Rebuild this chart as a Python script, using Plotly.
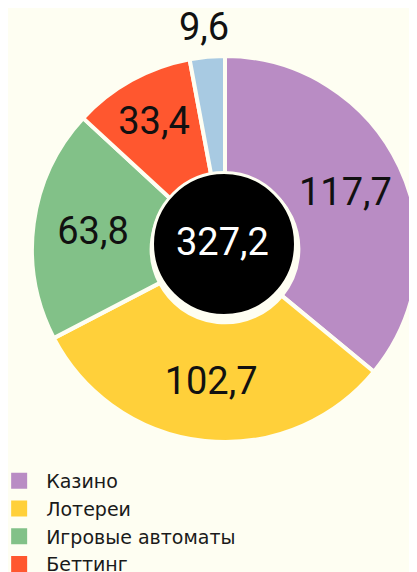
import math
import plotly.graph_objects as go

W, H = 417, 572
OFF = 8  # page body margin offset of the plot div
BG = "#FEFEF2"

categories = ["Казино", "Лотереи", "Игровые автоматы", "Беттинг", "Прочее"]
values = [117.7, 102.7, 63.8, 33.4, 9.6]
colors = ["#B98CC4", "#FFD03A", "#82C188", "#FF572F", "#A8CAE2"]
total_label = "327,2"
legend_count = 4

NUM_FONT = "Roboto, Noto Sans, sans-serif"

# geometry in page pixels (converted to figure pixels by OFF)
cx, cy, R = 225 - OFF, 249 - OFF, 193
hx, hy, hole_r = 224 - OFF, 244 - OFF, 71.5

dom_x = [(cx - R) / W, (cx + R) / W]
dom_y = [(H - cy - R) / H, (H - cy + R) / H]

small = [v / sum(values) < 0.05 for v in values]
positions = ["none" if s else "inside" for s in small]

fig = go.Figure()
fig.add_trace(go.Pie(
    labels=categories, values=values, sort=False, direction="clockwise", rotation=0,
    hole=0.38,
    marker=dict(colors=colors, line=dict(color=BG, width=4)),
    texttemplate="%{value:.1f}", textposition=positions,
    insidetextorientation="horizontal",
    textfont=dict(family=NUM_FONT, size=38, color="#111111"),
    domain=dict(x=dom_x, y=dom_y),
    showlegend=False, hoverinfo="skip",
))

# outside label for the small slice, at its mid-angle
total = sum(values)
cum = 0
for v, s in zip(values, small):
    mid = (cum + v / 2) / total * 2 * math.pi
    cum += v
    if s:
        rr = R + 30
        lx = cx + rr * math.sin(mid)
        ly = cy - rr * math.cos(mid)
        fig.add_annotation(x=lx / W, y=(H - ly) / H, xref="paper", yref="paper",
                           xanchor="center", yanchor="middle",
                           text=f"{v:.1f}".replace(".", ","), showarrow=False,
                           font=dict(family=NUM_FONT, size=38, color="#111111"))

for name, col in zip(categories[:legend_count], colors[:legend_count]):
    fig.add_trace(go.Scatter(x=[None], y=[None], mode="markers", name=name,
                             marker=dict(symbol="square", size=18, color=col)))

fig.add_shape(type="circle", xref="paper", yref="paper",
              x0=(hx - hole_r) / W, x1=(hx + hole_r) / W,
              y0=(H - hy - hole_r) / H, y1=(H - hy + hole_r) / H,
              fillcolor="black", line=dict(color=BG, width=3), layer="above")
fig.add_annotation(x=(222 - OFF) / W, y=(H - (242 - OFF)) / H, xref="paper", yref="paper",
                   xanchor="center", yanchor="middle",
                   text=total_label, showarrow=False,
                   font=dict(family=NUM_FONT, size=38, color="white"))

fig.update_layout(
    width=W, height=H, paper_bgcolor=BG, plot_bgcolor=BG,
    margin=dict(l=0, r=0, t=0, b=0, autoexpand=False),
    separators=", ",
    xaxis=dict(visible=False), yaxis=dict(visible=False),
    legend=dict(x=-0.038, y=1 - 454 / H, xanchor="left", yanchor="top",
                itemwidth=44,
                font=dict(family="DejaVu Sans", size=19, color="#1a1a1a"),
                bgcolor="rgba(0,0,0,0)"),
)

fig.write_html("out.html")
